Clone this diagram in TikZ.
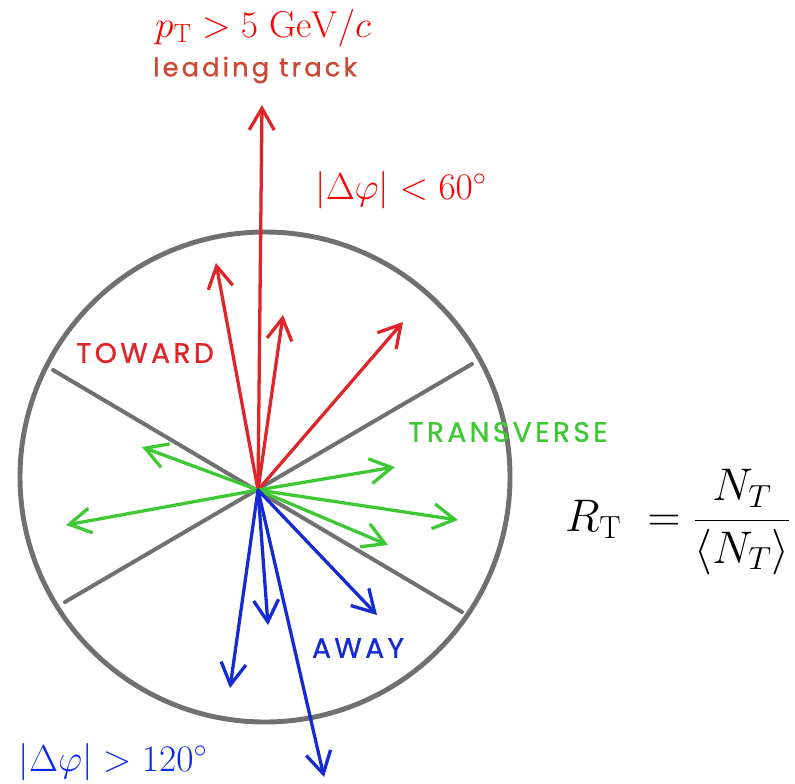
\RequirePackage{fix-cm}
\documentclass[tikz,border=0pt]{standalone}
\usepackage{fontspec}
\usepackage{amsmath}
\usetikzlibrary{positioning, arrows.meta}
\newfontfamily\handfont[LetterSpace=12, FakeBold=1]{Poppins}

\definecolor{ringgray}{RGB}{112,112,112}
\definecolor{trkred}{RGB}{222,38,42}
\definecolor{trkgreen}{RGB}{62,200,52}
\definecolor{trkblue}{RGB}{22,42,212}
\definecolor{leadred}{RGB}{205,72,52}
\definecolor{cutred}{RGB}{250,0,0}
\definecolor{cutblue}{RGB}{10,40,235}

\begin{document}
\begin{tikzpicture}[
  x=0.03cm, y=-0.03cm,
  ring/.style={draw=ringgray, line width=4.2pt},
  divider/.style={draw=ringgray, line width=3.4pt, line cap=round},
  trk/.style={line width=2.8pt, line cap=round,
    -{Straight Barb[length=6.5mm, width=7.5mm, line width=2.8pt]}},
  cut/.style={font=\fontsize{32}{38}\selectfont},
  hand/.style={font=\handfont\fontsize{24}{28}\selectfont},
]
  % frame of the page, 1 unit = 1 pixel of the reference
  \useasboundingbox (0,0) rectangle (795,783);

  % Event ring and the three regions
  \coordinate (ctr) at (265,477);
  \coordinate (o) at (258,490);
  \draw[ring] (ctr) circle (245);
  \coordinate (dul) at (53,370);
  \coordinate (dlr) at (462,612);
  \coordinate (dur) at (472,364);
  \coordinate (dll) at (65,602);
  \draw[divider] (dul) -- (dlr);
  \draw[divider] (dur) -- (dll);

  % Toward tracks (leading track first)
  \foreach \n/\x/\y in {lead/262/105, r1/216/263, r2/283/315, r3/403/322} {
    \coordinate (\n) at (\x,\y);
    \draw[trk, trkred] (o) -- (\n);
  }

  % Transverse tracks
  \foreach \n/\x/\y in {g1/142/447, g2/66/525, g3/395/467, g4/458/520, g5/388/545} {
    \coordinate (\n) at (\x,\y);
    \draw[trk, trkgreen] (o) -- (\n);
  }

  % Away tracks
  \foreach \n/\x/\y in {b1/230/688, b2/268/625, b3/377/615, b4/324/777} {
    \coordinate (\n) at (\x,\y);
    \draw[trk, trkblue] (o) -- (\n);
  }

  % Region labels
  \node[hand, text=trkred] (toward) at (145,353) {TOWARD};
  \node[hand, text=trkgreen] (transverse) at (508,432) {TRANSVERSE};
  \node[hand, text=trkblue] (away) at (358,648) {AWAY};
  \node[hand, text=leadred, font=\handfont\fontsize{22}{26}\selectfont]
    (leadlab) at (255,70) {leading track};

  % Cuts
  \node[cut, text=cutred] (ptcut) at (263,28) {$p_{\mathrm{T}} > 5~\mathrm{GeV}/c$};
  \node[cut, text=cutred] (dphi60) at (401,190) {$|\Delta\varphi| < 60^{\circ}$};
  \node[cut, text=cutblue] (dphi120) at (113,762) {$|\Delta\varphi| > 120^{\circ}$};

  % Definition of R_T
  \node[font=\fontsize{39}{46}\selectfont] (rt) at (678,522)
    {$R_{\mathrm{T}}\ = \dfrac{N_T}{\langle N_T\rangle}$};
\end{tikzpicture}
\end{document}
